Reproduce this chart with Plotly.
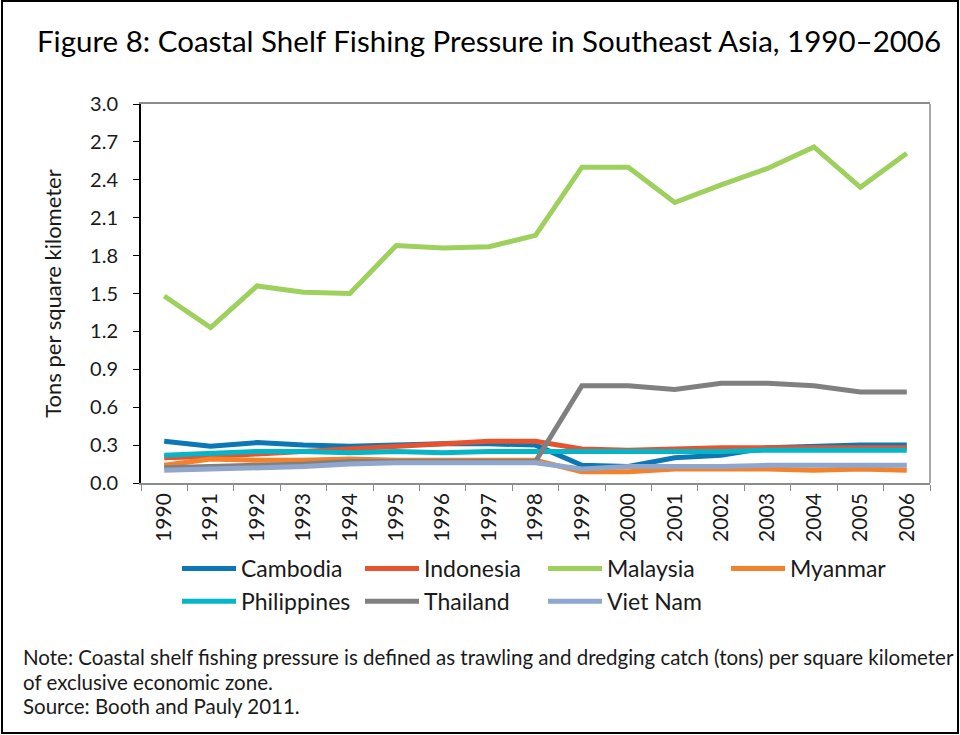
import plotly.graph_objects as go

years = [str(y) for y in range(1990, 2007)]

cambodia = [0.33, 0.29, 0.32, 0.30, 0.29, 0.30, 0.31, 0.31, 0.30, 0.14, 0.13, 0.20, 0.22, 0.28, 0.29, 0.30, 0.30]
indonesia = [0.20, 0.21, 0.23, 0.25, 0.27, 0.29, 0.31, 0.33, 0.33, 0.27, 0.26, 0.27, 0.28, 0.28, 0.28, 0.28, 0.28]
malaysia = [1.48, 1.23, 1.56, 1.51, 1.50, 1.88, 1.86, 1.87, 1.96, 2.50, 2.50, 2.22, 2.36, 2.49, 2.66, 2.34, 2.61]
myanmar = [0.14, 0.19, 0.18, 0.18, 0.19, 0.18, 0.18, 0.18, 0.18, 0.09, 0.09, 0.11, 0.11, 0.11, 0.10, 0.11, 0.10]
philippines = [0.22, 0.23, 0.25, 0.25, 0.24, 0.25, 0.24, 0.25, 0.25, 0.25, 0.25, 0.25, 0.25, 0.26, 0.26, 0.26, 0.26]
thailand = [0.12, 0.13, 0.14, 0.15, 0.17, 0.17, 0.17, 0.17, 0.17, 0.77, 0.77, 0.74, 0.79, 0.79, 0.77, 0.72, 0.72]
viet_nam = [0.10, 0.11, 0.12, 0.13, 0.15, 0.16, 0.16, 0.16, 0.16, 0.11, 0.13, 0.13, 0.13, 0.14, 0.14, 0.14, 0.14]

series = [
    ("Cambodia", cambodia, "#0b78b5"),
    ("Indonesia", indonesia, "#e8532e"),
    ("Malaysia", malaysia, "#9ed05d"),
    ("Myanmar", myanmar, "#f4812b"),
    ("Philippines", philippines, "#04b6c7"),
    ("Thailand", thailand, "#808080"),
    ("Viet Nam", viet_nam, "#8fa6cd"),
]

FONT = "Lato"

fig = go.Figure()
for name, vals, color in series:
    fig.add_trace(go.Scatter(
        x=years, y=vals, mode="lines", name=name,
        line=dict(color=color, width=5),
    ))

# plot area in pixels: left 141, right 930, top 104, bottom 483
L, R, T, B = 141, 930, 104, 483
W, H = R - L, B - T


def px_x(p):
    return (p - L) / W


def px_y(p):
    return (B - p) / H


fig.update_layout(
    width=960, height=735,
    margin=dict(l=L, r=960 - R, t=T, b=735 - B, autoexpand=False),
    paper_bgcolor="white", plot_bgcolor="white",
    font=dict(family=FONT, color="#1a1a1a"),
    showlegend=True,
    legend=dict(
        orientation="h", x=px_x(177), y=px_y(547), xanchor="left", yanchor="top",
        font=dict(size=23, family=FONT, color="#1a1a1a"),
        entrywidth=114, entrywidthmode="pixels", itemwidth=54,
        traceorder="normal",
    ),
)

fig.update_xaxes(
    type="category", range=[-0.5, len(years) - 0.5],
    showline=True, linecolor="#8c8c8c", linewidth=1.5,
    mirror=True, ticks="outside", tickson="boundaries", ticklen=6,
    tickcolor="#8c8c8c", tickangle=-90,
    tickfont=dict(size=21, family=FONT, color="#1a1a1a"),
    showgrid=False, zeroline=False,
)
fig.update_yaxes(
    range=[0, 3.0], dtick=0.3, tick0=0, tickformat=".1f",
    showline=True, linecolor="black", linewidth=2,
    ticks="outside", ticklen=6, tickcolor="black", ticklabelstandoff=11,
    tickfont=dict(size=20, family=FONT, color="#1a1a1a"),
    showgrid=False, zeroline=False,
    title=dict(text="Tons per square kilometer", font=dict(size=22, family=FONT, color="#1a1a1a"), standoff=22),
)

# right border of plot area (gray)
fig.add_shape(type="line", xref="paper", yref="paper", x0=1, x1=1, y0=0, y1=1,
              line=dict(color="#8c8c8c", width=1.5), layer="below")

# outer frame
fig.add_shape(type="rect", xref="paper", yref="paper",
              x0=px_x(2), x1=px_x(958), y0=px_y(733), y1=px_y(1),
              line=dict(color="black", width=2))

fig.add_annotation(
    text="Figure 8: Coastal Shelf Fishing Pressure in Southeast Asia, 1990\u20132006",
    xref="paper", yref="paper", x=px_x(35), y=px_y(40),
    xanchor="left", yanchor="middle", showarrow=False,
    font=dict(size=29.5, family=FONT, color="black"),
)

notes = [
    "Note: Coastal shelf fishing pressure is defined as trawling and dredging catch (tons) per square kilometer",
    "of exclusive economic zone.",
    "Source: Booth and Pauly 2011.",
]
for i, line in enumerate(notes):
    fig.add_annotation(
        text=line, xref="paper", yref="paper", x=px_x(21), y=px_y(657 + 24.5 * i),
        xanchor="left", yanchor="middle", showarrow=False,
        font=dict(size=20.5, family=FONT, color="#1a1a1a"),
    )

fig.write_html("out.html", config={"displayModeBar": False},
               post_script="document.body.style.margin='0';")
